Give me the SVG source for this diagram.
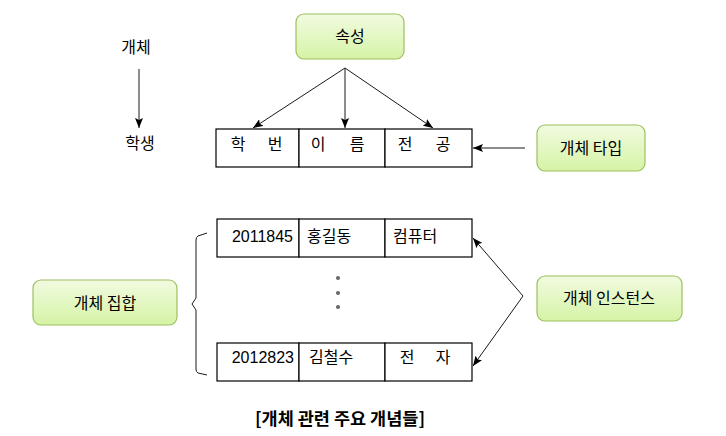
<svg xmlns="http://www.w3.org/2000/svg" width="726" height="436" viewBox="0 0 726 436">
<style>
text{font-family:"Noto Sans CJK KR","Liberation Sans",sans-serif;font-size:16px;fill:#000}
.num{font-family:"Liberation Sans","Noto Sans CJK KR",sans-serif;font-size:16px}
.green{fill:url(#g);stroke:#9dc060;stroke-width:1.2}
.cell{fill:#fff;stroke:#000;stroke-width:1.2}
.ln{fill:none;stroke:#1a1a1a;stroke-width:1}
.cap{font-weight:bold;font-size:17.5px}
</style>
<defs>
<linearGradient id="g" x1="0" y1="0" x2="0" y2="1">
<stop offset="0" stop-color="#f1fbe0"/>
<stop offset="1" stop-color="#d6f3a6"/>
</linearGradient>
<marker id="ah" viewBox="0 0 10 8" refX="10" refY="4" markerWidth="10" markerHeight="8" markerUnits="userSpaceOnUse" orient="auto">
<path d="M0,0 L10,4 L0,8 L2,4 Z" fill="#000"/>
</marker>
</defs>

<g id="label-entity"><text x="136" y="53" text-anchor="middle">개체</text></g>
<g id="label-student"><text x="140" y="149" text-anchor="middle">학생</text></g>

<g id="node-attr">
<rect class="green" x="296" y="14" width="108" height="45" rx="8"/>
<text x="350" y="42" text-anchor="middle">속성</text>
</g>

<g id="node-type-table">
<rect class="cell" x="216" y="129" width="83" height="38"/>
<rect class="cell" x="299" y="129" width="86" height="38"/>
<rect class="cell" x="385" y="129" width="87" height="38"/>
<text x="238" y="150" text-anchor="middle">학</text>
<text x="275" y="150" text-anchor="middle">번</text>
<text x="318" y="150" text-anchor="middle">이</text>
<text x="357" y="150" text-anchor="middle">름</text>
<text x="405" y="150" text-anchor="middle">전</text>
<text x="443" y="150" text-anchor="middle">공</text>
</g>

<g id="node-entity-type">
<rect class="green" x="537" y="125" width="108" height="46" rx="8"/>
<text x="591" y="154" text-anchor="middle">개체 타입</text>
</g>

<g id="node-row1">
<rect class="cell" x="217" y="219" width="82" height="38"/>
<rect class="cell" x="299" y="219" width="86" height="38"/>
<rect class="cell" x="385" y="219" width="87" height="38"/>
<text class="num" x="293" y="242" text-anchor="end">2011845</text>
<text x="307" y="242">홍길동</text>
<text x="393" y="242">컴퓨터</text>
</g>

<g id="node-dots">
<circle cx="338" cy="278" r="2" fill="#666"/>
<circle cx="338" cy="293" r="2" fill="#666"/>
<circle cx="338" cy="307" r="2" fill="#666"/>
</g>

<g id="node-row2">
<rect class="cell" x="217" y="343" width="82" height="38"/>
<rect class="cell" x="299" y="343" width="86" height="38"/>
<rect class="cell" x="385" y="343" width="87" height="38"/>
<text class="num" x="294" y="363" text-anchor="end">2012823</text>
<text x="309" y="363">김철수</text>
<text x="407" y="363" text-anchor="middle">전</text>
<text x="443" y="363" text-anchor="middle">자</text>
</g>

<g id="node-entity-set">
<rect class="green" x="33" y="280" width="144" height="45" rx="8"/>
<text x="105" y="309" text-anchor="middle">개체 집합</text>
</g>

<g id="node-entity-instance">
<rect class="green" x="537" y="276" width="145" height="45" rx="8"/>
<text x="609" y="304" text-anchor="middle">개체 인스턴스</text>
</g>

<g id="brace">
<path class="ln" d="M207,233 L198,236 Q196,237 196,240 L196,298 L192,304 L196,310 L196,369 Q196,372 198,373 L207,375"/>
</g>

<g id="connectors">
<line class="ln" x1="139" y1="69" x2="139" y2="128" marker-end="url(#ah)" stroke="#333"/>
<line class="ln" x1="345" y1="68" x2="253" y2="128" marker-end="url(#ah)"/>
<line class="ln" x1="345" y1="68" x2="345" y2="128" marker-end="url(#ah)"/>
<line class="ln" x1="345" y1="68" x2="433" y2="128" marker-end="url(#ah)"/>
<line class="ln" x1="525" y1="148" x2="473" y2="148" marker-end="url(#ah)"/>
<line class="ln" x1="523" y1="296" x2="473" y2="238" marker-end="url(#ah)"/>
<line class="ln" x1="523" y1="296" x2="473" y2="366" marker-end="url(#ah)"/>
</g>

<g id="caption"><text class="cap" x="340" y="425" text-anchor="middle">[개체 관련 주요 개념들]</text></g>
</svg>
